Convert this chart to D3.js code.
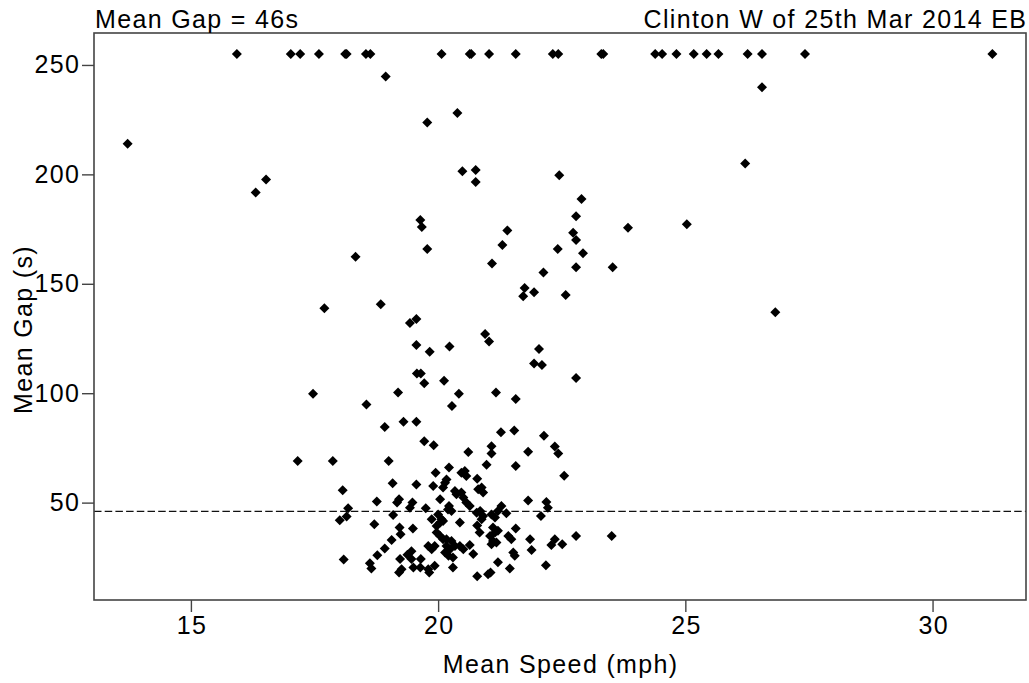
<!DOCTYPE html>
<html><head><meta charset="utf-8">
<script src="https://cdn.jsdelivr.net/npm/d3@7"></script>
<style>
body{margin:0;background:#fff;}
text{font-family:"Liberation Sans",Arial,sans-serif;fill:#000;letter-spacing:1.35px;}
</style></head>
<body><svg id="c" width="1029" height="683"></svg>
<script>
// Points capped at 255 s (top row)
const topSpeeds = [15.93,17.02,17.21,17.59,18.12,18.15,18.54,18.63,20.07,20.64,20.67,21.03,21.57,22.32,22.43,23.30,23.34,24.39,24.53,24.82,25.17,25.43,25.67,26.26,26.55,27.42,31.21];
const topGap = 255;
// Remaining points: [mean speed (mph), mean gap (s)]
const speeds = [18.94,26.55,20.39,19.78,13.72,16.31,16.52,20.49,20.76,20.76,26.21,22.45,22.90,22.79,19.64,19.67,21.40,23.84,25.03,22.73,22.79,21.30,19.78,22.42,22.93,18.33,21.09,22.79,23.53,22.13,21.75,21.72,21.94,22.58,18.84,17.70,26.82,19.43,19.56,20.95,21.03,19.56,20.23,22.04,19.83,21.94,22.10,19.57,19.65,22.79,20.12,19.72,17.47,19.19,20.42,21.17,21.57,18.55,20.28,19.30,19.56,18.92,21.54,21.27,22.14,19.72,19.91,21.08,22.36,21.08,20.61,21.82,22.43,17.16,17.87,19.00,20.98,21.57,20.22,19.95,20.47,20.54,20.57,22.55,20.79,20.17,20.14,19.08,19.56,19.90,20.10,18.07,20.34,20.37,20.81,20.88,20.91,20.47,20.51,20.04,19.21,21.82,18.76,19.17,19.48,20.57,22.19,19.43,22.22,18.18,19.75,20.22,20.64,21.28,20.27,20.85,21.21,20.20,20.78,21.38,20.00,21.08,19.09,20.91,22.08,18.15,21.15,19.87,20.07,20.88,18.01,20.10,20.04,20.44,18.71,20.79,19.97,19.22,21.11,19.49,21.57,21.21,19.97,20.84,21.15,19.24,20.04,21.05,21.42,22.79,23.51,20.10,20.17,21.48,21.86,22.36,19.06,20.27,21.11,21.18,21.08,22.51,22.29,20.64,19.80,19.93,20.34,20.44,18.92,19.87,20.51,21.89,19.46,20.14,21.52,20.71,19.38,18.77,20.21,21.55,20.30,19.23,19.46,19.65,18.09,21.21,18.62,22.18,19.93,19.50,19.64,20.30,18.65,21.45,19.26,19.80,19.21,19.82,21.06,21.01,20.79,20.17,20.24];
const gaps   = [244.7,239.8,228.0,223.7,214.0,191.7,197.7,201.4,202.0,196.5,205.0,199.6,188.8,180.9,179.2,176.0,174.4,175.6,177.2,173.3,170.0,167.7,165.9,165.9,164.0,162.3,159.3,157.5,157.5,155.1,148.1,144.3,146.1,144.9,140.7,138.8,137.0,132.1,133.9,127.0,123.6,122.0,121.3,120.2,118.9,113.6,112.9,109.0,109.0,106.9,105.7,104.5,99.7,100.3,99.7,100.3,97.4,94.8,94.2,87.0,87.0,84.6,82.9,82.2,80.5,78.1,76.2,75.8,75.6,72.5,73.1,73.3,72.5,69.0,69.0,69.0,67.3,66.7,66.0,63.7,63.7,64.4,62.2,62.3,60.9,60.6,59.1,58.8,58.3,57.6,56.9,55.7,55.3,53.8,56.1,56.9,54.6,54.6,52.3,51.5,51.5,51.0,50.5,50.0,50.0,50.0,50.3,47.7,47.7,47.4,47.4,48.4,48.4,48.4,46.2,46.2,46.2,46.9,45.4,45.1,44.6,44.6,44.3,43.9,43.9,43.6,43.2,42.4,42.4,42.4,41.9,41.6,40.9,40.9,40.1,39.6,39.3,38.6,38.6,38.2,38.2,37.1,36.3,36.3,36.3,35.6,34.8,34.8,34.8,34.7,34.7,33.3,33.3,33.3,33.3,33.3,32.9,32.5,32.5,31.8,31.0,31.0,30.6,30.6,30.2,30.2,30.2,30.2,29.0,28.7,28.7,28.3,27.8,27.2,27.2,26.5,26.2,26.0,25.7,25.7,24.9,24.2,24.2,24.2,24.0,22.7,22.3,21.4,21.1,20.4,20.4,20.4,19.9,19.9,19.6,19.6,18.1,18.1,18.1,17.3,16.3,30.2,28.7];
const meanGap = 46;
const xTicks = [15,20,25,30];
const yTicks = [50,100,150,200,250];
const titleLeft = "Mean Gap = 46s";
const titleRight = "Clinton W of 25th Mar 2014 EB";
const xLabel = "Mean Speed (mph)";
const yLabel = "Mean Gap (s)";

const points = topSpeeds.map(s => [s, topGap]).concat(speeds.map((s,i)=>[s,gaps[i]]));

const L=94, R=1026, T=33, B=600;
const svg = d3.select("#c");
const x = d3.scaleLinear().domain([13.04,31.89]).range([L,R]);
const y = d3.scaleLinear().domain([5.5,264.6]).range([B,T]);
const axisColor = "#444";
const LS = 1.35;

// dashed mean line
svg.append("line").attr("x1",L).attr("x2",R).attr("y1",y(meanGap)).attr("y2",y(meanGap))
  .attr("stroke","#111").attr("stroke-width",1.4).attr("stroke-dasharray","7.5,3.2");

// points
const sym = d3.symbol().type(d3.symbolSquare).size(50);
svg.append("g").selectAll("path").data(points).join("path")
  .attr("d", sym)
  .attr("transform", d => `translate(${x(d[0])},${y(d[1])}) rotate(45)`)
  .attr("fill","#000");

// box
svg.append("rect").attr("x",L).attr("y",T).attr("width",R-L).attr("height",B-T)
  .attr("fill","none").attr("stroke",axisColor).attr("stroke-width",1.6);

// axes
const xa = svg.append("g").attr("transform",`translate(0,${B})`)
  .call(d3.axisBottom(x).tickValues(xTicks).tickSize(12).tickPadding(4).tickFormat(d3.format("d")));
const ya = svg.append("g").attr("transform",`translate(${L},0)`)
  .call(d3.axisLeft(y).tickValues(yTicks).tickSize(12).tickPadding(3).tickFormat(d3.format("d")));
[xa,ya].forEach(a=>{
  a.select(".domain").remove();
  a.selectAll(".tick line").attr("stroke",axisColor).attr("stroke-width",1.4);
  a.selectAll(".tick text").attr("font-size",25).attr("font-family","'Liberation Sans',Arial,sans-serif").attr("fill","#000");
});
xa.selectAll(".tick text").attr("dx", LS/2);
ya.selectAll(".tick text").attr("dx", LS);

svg.append("text").attr("x",L+1).attr("y",28).attr("font-size",25).text(titleLeft);
svg.append("text").attr("x",R+LS).attr("y",28).attr("font-size",25).attr("text-anchor","end").text(titleRight);
svg.append("text").attr("x",(L+R)/2+LS/2).attr("y",673).attr("font-size",25).attr("text-anchor","middle").text(xLabel);
svg.append("text").attr("transform",`translate(32,${(T+B)/2+13}) rotate(-90)`).attr("font-size",25).attr("text-anchor","middle").text(yLabel);
</script></body></html>
